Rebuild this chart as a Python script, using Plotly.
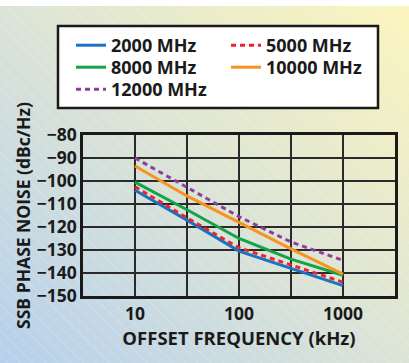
import base64
import plotly.graph_objects as go

# ---- data ----
offset_khz = [10, 31.6, 100, 316, 1000]
series_names = ["2000 MHz", "5000 MHz", "8000 MHz", "10000 MHz", "12000 MHz"]
noise_2000 = [-104, -117, -130.5, -138, -145.5]
noise_5000 = [-102.5, -116, -129, -136.5, -144]
noise_8000 = [-100.5, -112.5, -125, -134, -141]
noise_10000 = [-93.5, -106.5, -118, -129.5, -140.5]
noise_12000 = [-90, -102.7, -115.5, -126.5, -134.5]
x_tick_vals = [10, 100, 1000]
x_tick_text = ["10", "100", "1000"]
y_tick_vals = [-80, -90, -100, -110, -120, -130, -140, -150]

series = [noise_2000, noise_5000, noise_8000, noise_10000, noise_12000]
colors = ["#1a72c4", "#ee2229", "#14a24a", "#f7931e", "#8d3f9c"]
dashes = ["solid", "5px,4px", "solid", "solid", "5px,4px"]
legend_rows = ["legend", "legend", "legend2", "legend2", "legend3"]

W, H = 409, 363
L, R, T, B = 83, 14, 135, 67
pw, ph = W - L - R, H - T - B

FONT = "Open Sans"
INK = "#1a1a1a"

fig = go.Figure()
for name, ys, c, d, lg in zip(series_names, series, colors, dashes, legend_rows):
    fig.add_trace(go.Scatter(x=offset_khz, y=ys, mode="lines", name=name, legend=lg,
                             line=dict(color=c, width=3, dash=d)))

# background gradient with faint diagonal hatch
svg = f'''<svg xmlns="http://www.w3.org/2000/svg" width="{W}" height="{H}" viewBox="0 0 {W} {H}">
<defs>
<linearGradient id="g" x1="0" y1="1" x2="1" y2="0">
<stop offset="0" stop-color="#b6d0ec"/>
<stop offset="0.5" stop-color="#dce4d6"/>
<stop offset="1" stop-color="#fcf5bd"/>
</linearGradient>
<pattern id="p" width="9" height="9" patternUnits="userSpaceOnUse" patternTransform="rotate(-45)">
<line x1="0" y1="0" x2="0" y2="9" stroke="#ffffff" stroke-width="1" stroke-opacity="0.35"/>
</pattern>
</defs>
<rect width="{W}" height="{H}" fill="url(#g)"/>
<rect width="{W}" height="{H}" fill="url(#p)"/>
<rect width="{W}" height="6" fill="#ffffff"/>
</svg>'''
src = "data:image/svg+xml;base64," + base64.b64encode(svg.encode()).decode()

fig.add_layout_image(dict(source=src, xref="paper", yref="paper",
                          x=-L / pw, y=1 + T / ph, sizex=W / pw, sizey=H / ph,
                          xanchor="left", yanchor="top", sizing="stretch",
                          layer="below"))

# legend frame
fig.add_shape(type="rect", xref="paper", yref="paper",
              x0=(58 - L) / pw, x1=(378 - L) / pw,
              y0=1 + (T - 108) / ph, y1=1 + (T - 26) / ph,
              line=dict(color=INK, width=2.5), fillcolor="#ffffff", layer="below")

axis_common = dict(showline=True, linecolor=INK, linewidth=2.5, mirror=True,
                   showgrid=True, gridcolor="#2a2a2a", gridwidth=1.8,
                   ticks="", zeroline=False)

fig.update_xaxes(type="log", range=[0.5, 3.5],
                 tickvals=x_tick_vals, ticktext=x_tick_text,
                 minor=dict(tickvals=[10 ** 0.5 * v for v in x_tick_vals],
                            showgrid=True, gridcolor="#2a2a2a", gridwidth=1.8),
                 tickfont=dict(family=FONT, size=17.5, color=INK, weight="bold"),
                 title=dict(text="OFFSET FREQUENCY (kHz)", standoff=6,
                            font=dict(family=FONT, size=18.5, color=INK, weight="bold")),
                 **axis_common)
fig.update_yaxes(range=[-150, -80], tickvals=y_tick_vals,
                 tickfont=dict(family=FONT, size=17.5, color=INK, weight="bold"),
                 title=dict(text="SSB PHASE NOISE (dBc/Hz)", standoff=2,
                            font=dict(family=FONT, size=17.5, color=INK, weight="bold")),
                 **axis_common)

def legend_row(top_px):
    return dict(orientation="h", x=(71 - L) / pw, y=1 + (T - top_px) / ph,
                xanchor="left", yanchor="top",
                bgcolor="rgba(0,0,0,0)", borderwidth=0,
                entrywidth=110, tracegroupgap=0, itemwidth=30,
                font=dict(family=FONT, size=18, color=INK, weight="bold"))

fig.update_layout(
    width=W, height=H,
    margin=dict(l=L, r=R, t=T, b=B, pad=0),
    paper_bgcolor="#dfe5d8", plot_bgcolor="#ffffff",
    showlegend=True,
    legend=legend_row(27),
    legend2=legend_row(49),
    legend3=legend_row(71),
)

fig.write_html("out.html", config={"displayModeBar": False},
               post_script="document.body.style.margin='0';document.body.style.padding='0';")
